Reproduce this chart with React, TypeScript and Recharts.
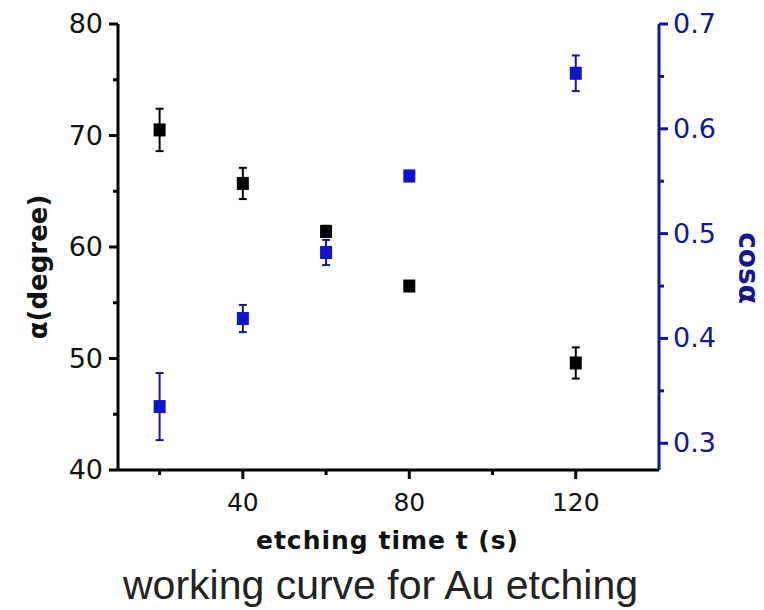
import React from "react";
import { ScatterChart, Scatter, XAxis, YAxis, ErrorBar, Label } from "recharts";

// etching time (s)
const times = [20, 40, 60, 80, 120];
// contact angle alpha (degree), left axis
const alphaValues = [70.5, 65.7, 61.4, 56.5, 49.6];
const alphaErrors = [1.9, 1.4, 0.5, 0.3, 1.4];
// cos(alpha), right axis
const cosValues = [0.335, 0.419, 0.482, 0.555, 0.653];
const cosErrors = [0.032, 0.013, 0.012, 0.005, 0.017];

const xTicks = [20, 40, 60, 80, 100, 120];
const xLabels = [40, 80, 120];
const leftTicks = [40, 45, 50, 55, 60, 65, 70, 75, 80];
const leftLabels = [40, 50, 60, 70, 80];
const rightTicks = [0.3, 0.35, 0.4, 0.45, 0.5, 0.55, 0.6, 0.65, 0.7];
const rightLabels = [0.3, 0.4, 0.5, 0.6, 0.7];

const BLUE = "#1212c8";
const NAVY = "#16168c";
const TICK_FONT = "'DejaVu Sans', sans-serif";

const alphaData = times.map((t, i) => ({ t, v: alphaValues[i], err: alphaErrors[i] }));
const cosData = times.map((t, i) => ({ t, v: cosValues[i], err: cosErrors[i] }));

const isLabel = (list: number[], v: number) => list.some((l) => Math.abs(l - v) < 1e-6);

function BottomTick({ x, y, payload }: any) {
  const major = isLabel(xLabels, payload.value);
  return (
    <g>
      <line x1={x} x2={x} y1={y} y2={y + (major ? 9 : 5)} stroke="#000" strokeWidth={3} />
      {major && (
        <text x={x} y={y + 41} textAnchor="middle" fontSize={25} fontFamily={TICK_FONT} fill="#111">
          {payload.value}
        </text>
      )}
    </g>
  );
}

function LeftTick({ x, y, payload }: any) {
  const major = isLabel(leftLabels, payload.value);
  return (
    <g>
      <line x1={x} x2={x - (major ? 9 : 5)} y1={y} y2={y} stroke="#000" strokeWidth={3} />
      {major && (
        <text x={x - 15} y={y + 9} textAnchor="end" fontSize={27} fontFamily={TICK_FONT} fill="#111">
          {payload.value}
        </text>
      )}
    </g>
  );
}

function RightTick({ x, y, payload }: any) {
  const major = isLabel(rightLabels, payload.value);
  return (
    <g>
      <line x1={x} x2={x + (major ? 9 : 5)} y1={y} y2={y} stroke={NAVY} strokeWidth={3} />
      {major && (
        <text x={x + 14} y={y + 9} textAnchor="start" fontSize={27} fontFamily={TICK_FONT} fill={NAVY}>
          {payload.value.toFixed(1)}
        </text>
      )}
    </g>
  );
}

const square = (color: string) => (p: any) => (
  <rect x={p.cx - 6} y={p.cy - 6.5} width={12} height={13} fill={color} />
);

export default function App() {
  return (
    <div style={{ position: "absolute", left: 0, top: 0, width: 764, height: 610, background: "#fff" }}>
      <ScatterChart width={764} height={610} margin={{ top: 24, right: 0, bottom: 0, left: 0 }}>
        <XAxis
          xAxisId="top"
          orientation="top"
          type="number"
          dataKey="t"
          domain={[10, 140]}
          height={0}
          tick={false}
          tickLine={false}
          axisLine={{ stroke: "#000", strokeWidth: 3 }}
        />
        <XAxis
          xAxisId="bottom"
          type="number"
          dataKey="t"
          domain={[10, 140]}
          ticks={xTicks}
          height={140}
          tickSize={0}
          tickMargin={0}
          tickLine={false}
          tick={<BottomTick />}
          interval={0}
          axisLine={{ stroke: "#000", strokeWidth: 3 }}
        >
          <Label
            content={({ viewBox }: any) => (
              <g>
                <text
                  x={viewBox.x + viewBox.width / 2 - 1}
                  y={viewBox.y + 79}
                  textAnchor="middle"
                  fontSize={25}
                  fontWeight="bold"
                  letterSpacing={1}
                  fontFamily={TICK_FONT}
                  fill="#111"
                >
                  etching time t (s)
                </text>
                <text
                  x={viewBox.x + viewBox.width / 2 - 8}
                  y={viewBox.y + 129}
                  textAnchor="middle"
                  fontSize={41}
                  fontFamily="'Liberation Sans', Arial, sans-serif"
                  fill="#222"
                >
                  working curve for Au etching
                </text>
              </g>
            )}
          />
        </XAxis>
        <YAxis
          yAxisId="left"
          type="number"
          domain={[40, 80]}
          ticks={leftTicks}
          width={118}
          tickSize={0}
          tickMargin={0}
          tickLine={false}
          tick={<LeftTick />}
          interval={0}
          axisLine={{ stroke: "#000", strokeWidth: 3 }}
          allowDataOverflow
        >
          <Label
            content={() => (
              <text
                x={38}
                y={267}
                transform="rotate(-90 38 267)"
                textAnchor="middle"
                dominantBaseline="central"
                fontSize={26}
                fontWeight="bold"
                fontFamily={TICK_FONT}
                fill="#111"
              >
                α(degree)
              </text>
            )}
          />
        </YAxis>
        <YAxis
          yAxisId="right"
          orientation="right"
          type="number"
          domain={[0.2745, 0.7]}
          ticks={rightTicks}
          width={105}
          tickSize={0}
          tickMargin={0}
          tickLine={false}
          tick={<RightTick />}
          interval={0}
          axisLine={{ stroke: NAVY, strokeWidth: 3 }}
          allowDataOverflow
        >
          <Label
            content={() => (
              <text
                x={748}
                y={268}
                transform="rotate(90 748 268)"
                textAnchor="middle"
                dominantBaseline="central"
                fontSize={28}
                fontWeight="bold"
                fontFamily={TICK_FONT}
                fill={NAVY}
              >
                cosα
              </text>
            )}
          />
        </YAxis>
        <Scatter
          data={alphaData}
          dataKey="v"
          xAxisId="bottom"
          yAxisId="left"
          shape={square("#000")}
          isAnimationActive={false}
        >
          <ErrorBar dataKey="err" direction="y" width={4} stroke="#000" strokeWidth={2} isAnimationActive={false} />
        </Scatter>
        <Scatter
          data={cosData}
          dataKey="v"
          xAxisId="bottom"
          yAxisId="right"
          shape={square(BLUE)}
          isAnimationActive={false}
        >
          <ErrorBar dataKey="err" direction="y" width={4} stroke={NAVY} strokeWidth={2} isAnimationActive={false} />
        </Scatter>
      </ScatterChart>
    </div>
  );
}
